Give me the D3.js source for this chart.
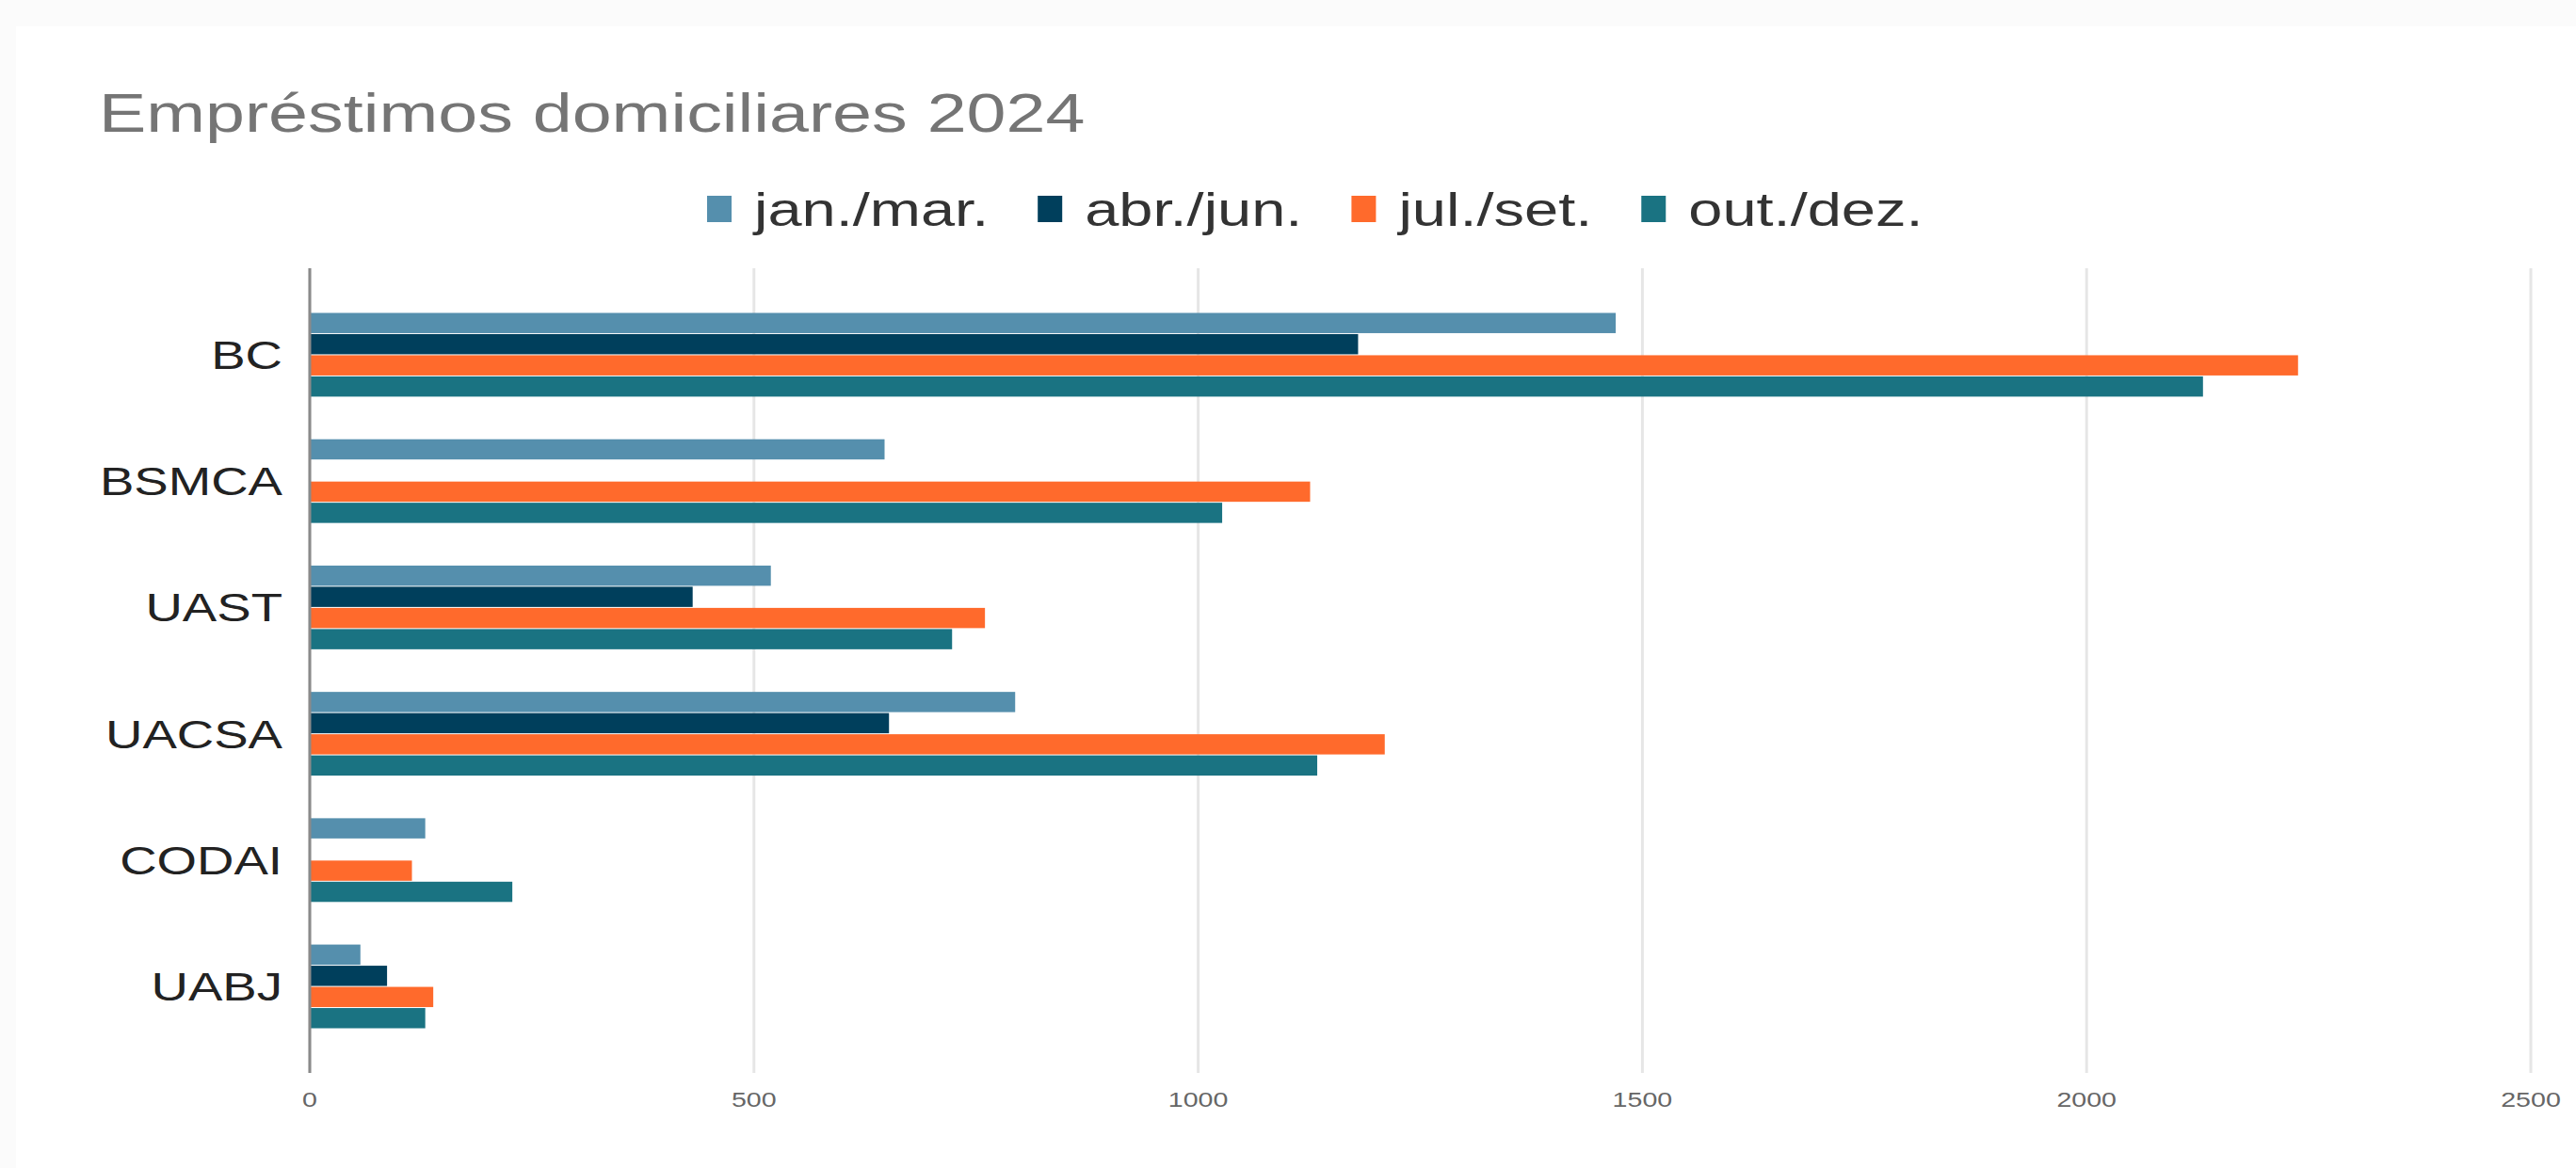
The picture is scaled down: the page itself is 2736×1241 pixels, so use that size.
<!DOCTYPE html>
<html>
<head>
<meta charset="utf-8">
<script src="https://cdn.jsdelivr.net/npm/d3@7"></script>
<style>
  html, body { margin: 0; padding: 0; background: #fbfbfb; }
  svg { display: block; }
  text { font-family: "Liberation Sans", Arial, sans-serif; }
</style>
</head>
<body>
<svg id="chart" width="2736" height="1241"></svg>
<script>
// ---- data ----
const categories = ["BC", "BSMCA", "UAST", "UACSA", "CODAI", "UABJ"];
const seriesNames = ["jan./mar.", "abr./jun.", "jul./set.", "out./dez."];
const janMar = [1470, 647, 519, 794, 130, 57];
const abrJun = [1180, 0, 431, 652, 0, 87];
const julSet = [2238, 1126, 760, 1210, 115, 139];
const outDez = [2131, 1027, 723, 1134, 228, 130];
const xTicks = [0, 500, 1000, 1500, 2000, 2500];
const title = "Empréstimos domiciliares 2024";

// ---- styles / layout ----
const colors = ["#558fad", "#003f5c", "#ff6a2c", "#1a7382"];
const STRETCH = 1.3;
const W = 2736, H = 1241;
const plot = { left: 329, right: 2688, top: 285, bottom: 1140 };

const seriesValues = [janMar, abrJun, julSet, outDez];
const rows = categories.map((c, i) => ({
  cat: c,
  vals: seriesNames.map((s, j) => ({ series: s, idx: j, value: seriesValues[j][i] }))
}));

const svg = d3.select("#chart");
svg.append("rect").attr("x", 17).attr("y", 28).attr("width", W - 17).attr("height", H - 28).attr("fill", "#ffffff");

const x = d3.scaleLinear().domain([0, 2500]).range([plot.left, plot.right]);
const y = d3.scaleBand().domain(categories).range([plot.top, plot.bottom]).paddingInner(0.33).paddingOuter(0.35);
const ySub = d3.scaleBand().domain(seriesNames).range([0, y.bandwidth()]).padding(0);

// stretched text helper
function stext(parent, tx, ty, str, size, anchor, fill, weight) {
  const g = parent.append("g").attr("transform", `translate(${tx},${ty}) scale(${STRETCH},1)`);
  g.append("text").text(str).attr("font-size", size).attr("text-anchor", anchor || "start")
    .attr("fill", fill).attr("font-weight", weight || "normal");
  return g;
}

// gridlines
svg.append("g").selectAll("line").data(xTicks).join("line")
  .attr("x1", d => x(d)).attr("x2", d => x(d))
  .attr("y1", plot.top).attr("y2", plot.bottom)
  .attr("stroke", "#e6e6e6").attr("stroke-width", 3);

// bars
const groups = svg.append("g").selectAll("g").data(rows).join("g")
  .attr("transform", d => `translate(0,${y(d.cat)})`);
groups.selectAll("rect").data(d => d.vals.filter(v => v.value > 0)).join("rect")
  .attr("x", x(0))
  .attr("y", d => ySub(d.series) + 0.5)
  .attr("width", d => x(d.value) - x(0))
  .attr("height", ySub.bandwidth() - 1)
  .attr("fill", d => colors[d.idx]);

// baseline axis line
svg.append("line").attr("x1", x(0)).attr("x2", x(0)).attr("y1", plot.top).attr("y2", plot.bottom)
  .attr("stroke", "#8a8a8a").attr("stroke-width", 3);

// x tick labels
xTicks.forEach(t => stext(svg, x(t), 1176, String(t), 22, "middle", "#666666"));

// y labels
categories.forEach(c => stext(svg, 300, y(c) + y.bandwidth() / 2 + 15, c, 42, "end", "#222222"));

// title
stext(svg, 105, 140, title, 58, "start", "#757575");

// legend
const legendY = 222;
let lx = 751;
seriesNames.forEach((s, i) => {
  svg.append("rect").attr("x", lx).attr("y", legendY - 14).attr("width", 26).attr("height", 28).attr("fill", colors[i]);
  const g = stext(svg, lx + 50, legendY + 18, s, 50, "start", "#333333");
  const w = g.select("text").node().getComputedTextLength() * STRETCH;
  lx = lx + 50 + w + 52;
});
</script>
</body>
</html>
